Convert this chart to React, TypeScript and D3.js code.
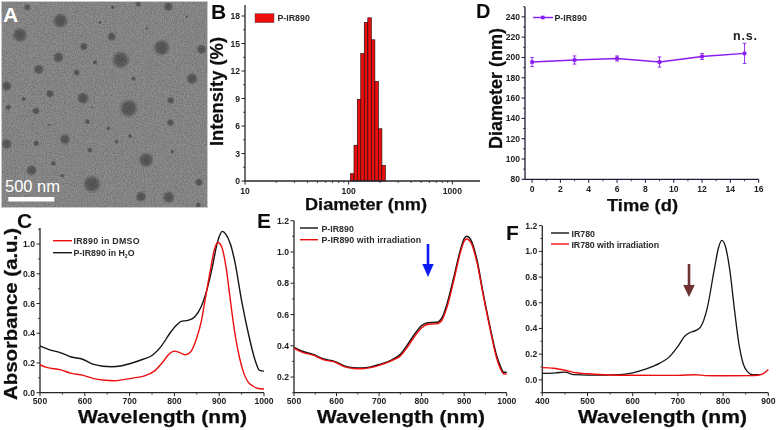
import React from "react";
import * as d3 from "d3";

type P = [number, number];

// Panel A: particles in the micrograph [x, y, radius], in nm from the image corner
const particles: [number, number, number][] = [
  [181,62,22],[60,105,22],[82,22,10],[335,110,13],[251,140,12],[485,143,24],[605,148,15],[175,172,16],
  [362,180,26],[116,208,15],[230,218,10],[285,187,7],[400,236,7],[576,236,17],[20,258,15],[150,281,12],
  [71,297,7],[249,295,18],[512,301,11],[25,322,9],[108,333,11],[386,325,27],[276,323,3],[148,374,4],
  [262,365,8],[511,368,11],[325,385,6],[195,418,16],[20,432,16],[109,430,9],[390,408,6],[270,450,8],
  [517,455,6],[438,480,22],[160,490,8],[95,511,16],[187,527,6],[276,552,26],[597,547,12],[423,590,16],
  [506,592,18],[595,615,8],[505,20,14],[415,12,9],[338,22,6],[300,68,5],[560,50,4],[440,85,4],[350,425,6],
];

// Panel B
const binDiameters = [108,117,126,136,147,159,172,186,201,217];
const binIntensity = [0.8,3.9,8.9,13.9,17.3,17.8,15.4,10.85,5.7,1.7];

// Panel D
const days = [0,3,6,9,12,15];
const diameters = [195.5,197.5,199,195.5,201,204];
const diameterErr = [4.5,4,2.5,5,3,10];

// Panel C
const cDmso: P[] = [[500,.188],[515,.17],[545,.155],[570,.13],[595,.118],[620,.095],[640,.085],[665,.08],[690,.09],[710,.1],[735,.115],[755,.145],[775,.21],[790,.265],[800,.28],[812,.27],[825,.255],[835,.27],[850,.37],[860,.48],[870,.65],[880,.82],[890,.97],[897,1.01],[905,.985],[915,.85],[925,.62],[935,.40],[945,.24],[955,.13],[965,.07],[975,.045],[985,.03],[1000,.025]];
const cWater: P[] = [[500,.315],[520,.29],[545,.27],[570,.24],[595,.225],[620,.19],[640,.178],[660,.175],[680,.18],[700,.195],[730,.225],[750,.25],[770,.31],[790,.40],[805,.455],[815,.48],[830,.487],[845,.51],[860,.58],[875,.72],[885,.85],[895,1.0],[900,1.05],[907,1.085],[915,1.065],[925,1.0],[935,.88],[950,.62],[965,.40],[980,.22],[990,.15],[1000,.145]];

// Panel E
const eBefore: P[] = [[500,.39],[520,.365],[545,.345],[570,.315],[595,.3],[620,.27],[640,.26],[660,.258],[680,.265],[700,.28],[730,.31],[750,.345],[770,.42],[785,.48],[800,.53],[815,.548],[835,.55],[848,.58],[860,.67],[875,.83],[890,1.0],[900,1.085],[906,1.1],[915,1.08],[930,.95],[945,.73],[960,.53],[975,.35],[985,.27],[993,.23],[1000,.23]];
const eAfter: P[] = [[500,.385],[520,.358],[545,.34],[570,.31],[595,.297],[620,.265],[640,.255],[660,.253],[680,.26],[700,.275],[730,.305],[750,.335],[770,.405],[785,.465],[800,.515],[815,.538],[835,.54],[848,.565],[860,.65],[875,.81],[890,.985],[900,1.07],[906,1.083],[915,1.065],[930,.935],[945,.72],[960,.52],[975,.335],[985,.255],[993,.22],[1000,.22]];

// Panel F
const fBefore: P[] = [[400,.05],[430,.055],[450,.06],[470,.04],[500,.037],[540,.037],[570,.04],[600,.055],[630,.085],[660,.13],[680,.175],[700,.26],[715,.34],[725,.365],[740,.385],[750,.41],[765,.56],[780,.85],[790,1.03],[797,1.085],[805,1.04],[815,.85],[825,.55],[835,.28],[845,.12],[855,.06],[865,.04],[880,.04]];
const fAfter: P[] = [[400,.095],[425,.09],[450,.075],[475,.055],[500,.047],[550,.038],[600,.036],[700,.035],[740,.04],[760,.033],[800,.032],[860,.033],[880,.038],[890,.05],[900,.08]];

const FONT = "'Liberation Sans', Arial, sans-serif";
const AXIS = "#26262c";
const TICK_TXT = "#222";

type AxisProps = {
  x: d3.ScaleContinuousNumeric<number, number>;
  y: d3.ScaleContinuousNumeric<number, number>;
  xMajor: number[]; xMinor: number[]; yMajor: number[]; yMinor: number[];
  xFmt?: (v: number) => string; yFmt?: (v: number) => string;
  xEnd?: number; xBaseline: number; color?: string;
};

function Axes({ x, y, xMajor, xMinor, yMajor, yMinor, xFmt = String, yFmt = String, xBaseline, color = AXIS }: AxisProps) {
  const [x0, x1] = x.range();
  const [y0, y1] = y.range();
  return (
    <g fontFamily={FONT} fontWeight="bold" fontSize={8.6} fill={TICK_TXT}>
      <path d={`M${x0},${y1}V${y0}H${x1}`} fill="none" stroke={color} strokeWidth={1.3} />
      {xMajor.map(v => (
        <g key={"xM" + v}>
          <line x1={x(v)} x2={x(v)} y1={y0} y2={y0 + 3.5} stroke={color} strokeWidth={1} />
          <text x={x(v)} y={xBaseline} textAnchor="middle">{xFmt(v)}</text>
        </g>
      ))}
      {xMinor.map(v => <line key={"xm" + v} x1={x(v)} x2={x(v)} y1={y0} y2={y0 + 2} stroke={color} strokeWidth={0.8} />)}
      {yMajor.map(v => (
        <g key={"yM" + v}>
          <line x1={x0} x2={x0 - 3.5} y1={y(v)} y2={y(v)} stroke={color} strokeWidth={1} />
          <text x={x0 - 5} y={y(v) + 3} textAnchor="end">{yFmt(v)}</text>
        </g>
      ))}
      {yMinor.map(v => <line key={"ym" + v} x1={x0} x2={x0 - 2} y1={y(v)} y2={y(v)} stroke={color} strokeWidth={0.8} />)}
    </g>
  );
}

const BigX = ({ t, x0, x1, y, s = 17.5 }: { t: string; x0: number; x1: number; y: number; s?: number }) => (
  <text x={x0} y={y} textLength={x1 - x0} lengthAdjust="spacingAndGlyphs" fontFamily={FONT} fontWeight="bold" fontSize={s} fill="#111" stroke="#111" strokeWidth={0.25}>{t}</text>
);
const BigY = ({ t, x, y0, y1, s = 17.5 }: { t: string; x: number; y0: number; y1: number; s?: number }) => (
  <text transform={`translate(${x},${y0}) rotate(-90)`} textLength={y0 - y1} lengthAdjust="spacingAndGlyphs" fontFamily={FONT} fontWeight="bold" fontSize={s} fill="#111" stroke="#111" strokeWidth={0.25}>{t}</text>
);
const Letter = ({ t, x, y, fill = "#111", s = 21 }: { t: string; x: number; y: number; fill?: string; s?: number }) => (
  <text x={x} y={y} fontFamily={FONT} fontWeight="bold" fontSize={s} fill={fill}>{t}</text>
);
const Leg = ({ t, x, y, w }: { t: React.ReactNode; x: number; y: number; w?: number }) => (
  <text x={x} y={y} fontFamily={FONT} fontWeight="bold" fontSize={8.8} fill="#2a2a2a" textLength={w} lengthAdjust={w ? "spacing" : undefined}>{t}</text>
);
const LegLine = ({ x0, x1, y, c }: { x0: number; x1: number; y: number; c: string }) => (
  <line x1={x0} x2={x1} y1={y} y2={y} stroke={c} strokeWidth={1.4} />
);
const Arrow = ({ x, y0, yh, y1, hw, c }: { x: number; y0: number; yh: number; y1: number; hw: number; c: string }) => (
  <g fill={c}>
    <rect x={x - 1.3} y={y0} width={2.6} height={yh - y0 + 1} />
    <path d={`M${x - hw},${yh}H${x + hw}L${x},${y1}Z`} />
  </g>
);

const steps = (a: number, b: number, s: number) => d3.range(a, b + s / 2, s).map(v => +v.toFixed(4));

export default function App() {
  // A
  const imgS = d3.scaleLinear().domain([0, 630]).range([0, 210]);

  // B
  const bx = d3.scaleLog().domain([10, 1847]).range([245, 480]);
  const by = d3.scaleLinear().domain([0, 19.2]).range([181, 5]);
  const binRatio = Math.pow(10, 10.5 / 311 / 2);

  // D
  const dx = d3.scaleLinear().domain([-0.5, 16]).range([525, 758.7]);
  const dy = d3.scaleLinear().domain([80, 250]).range([179.3, 6.7]);
  const dLine = d3.line<number>().x((_, i) => dx(days[i])).y(v => dy(v));

  // C
  const cx = d3.scaleLinear().domain([500, 1000]).range([40, 264]);
  const cy = d3.scaleLinear().domain([0, 1.108]).range([392.7, 228]);
  // E
  const ex = d3.scaleLinear().domain([500, 1000]).range([294, 506.7]);
  const ey = d3.scaleLinear().domain([0.1, 1.2]).range([392.7, 220.7]);
  // F
  const fx = d3.scaleLinear().domain([400, 900]).range([542.3, 768.3]);
  const fy = d3.scaleLinear().domain([-0.1, 1.2]).range([392.7, 225.7]);

  const curve = (sx: any, sy: any) =>
    d3.line<P>().x(d => sx(d[0])).y(d => sy(d[1])).curve(d3.curveMonotoneX);
  const f1 = (v: number) => v.toFixed(1);

  return (
    <svg width={777} height={430} viewBox="0 0 777 430" style={{ position: "absolute", left: 0, top: 0, background: "#fff" }}>
      <defs>
        <filter id="grain" x="0" y="0" width="100%" height="100%">
          <feTurbulence type="fractalNoise" baseFrequency="0.9" numOctaves={2} seed={4} />
          <feColorMatrix type="matrix" values="0 0 0 0 0  0 0 0 0 0  0 0 0 0 0  1.4 0 0 0 -0.5" />
          <feGaussianBlur stdDeviation="0.4" />
        </filter>
        <filter id="soft" x="-10%" y="-10%" width="120%" height="120%">
          <feGaussianBlur stdDeviation="0.35" />
        </filter>
        <radialGradient id="blob">
          <stop offset="0%" stopColor="#484848" stopOpacity={0.8} />
          <stop offset="60%" stopColor="#4c4c4c" stopOpacity={0.68} />
          <stop offset="100%" stopColor="#606060" stopOpacity={0} />
        </radialGradient>
        <clipPath id="imgClip"><rect x={2} y={2} width={205} height={205} /></clipPath>
      </defs>

      {/* A */}
      <rect x={1} y={1} width={207} height={207} fill="#c8c8c8" />
      <g clipPath="url(#imgClip)">
        <rect x={2} y={2} width={205} height={205} fill="#8e8e8e" />
        {particles.map(([px, py, r], i) => (
          <circle key={i} cx={imgS(px)} cy={imgS(py)} r={imgS(r) * 1.12} fill="url(#blob)" />
        ))}
        <rect x={2} y={2} width={205} height={205} fill="#000" filter="url(#grain)" opacity={0.36} />
      </g>
      <Letter t="A" x={3} y={21.5} fill="#fff" />
      <text x={5} y={192} fontFamily={FONT} fontSize={16.5} fill="#fff">500 nm</text>
      <rect x={8.3} y={197} width={46} height={4.5} fill="#fff" />

      <g filter="url(#soft)">
        {/* B */}
        <Letter t="B" x={211} y={19} />
        {binDiameters.map((d, i) => (
          <rect key={d} x={bx(d / binRatio)} y={by(binIntensity[i])} width={bx(d * binRatio) - bx(d / binRatio)}
            height={by(0) - by(binIntensity[i])} fill="#ee0a0a" stroke="#2a0c0c" strokeWidth={0.7} />
        ))}
        <Axes x={bx} y={by}
          xMajor={[10, 100, 1000]} xMinor={[20,30,40,50,60,70,80,90,200,300,400,500,600,700,800,900]}
          yMajor={steps(0, 18, 3)} yMinor={steps(1.5, 16.5, 3)} xBaseline={193.5} />
        <rect x={255} y={13.7} width={19} height={9} fill="#ee0a0a" stroke="#555" strokeWidth={0.5} />
        <Leg t="P-IR890" x={277.5} y={21} />
        <BigX t="Diameter (nm)" x0={305} x1={427} y={210} s={16} />
        <BigY t="Intensity (%)" x={223} y0={146} y1={37} />

        {/* D */}
        <Letter t="D" x={476} y={18} s={20} />
        <Axes x={dx} y={dy} xMajor={steps(0, 16, 2)} xMinor={steps(1, 15, 2)}
          yMajor={steps(80, 240, 20)} yMinor={steps(90, 250, 20)} xBaseline={192} color="#1a1a3a" />
        <path d={dLine(diameters) ?? ""} fill="none" stroke="#8a1cf0" strokeWidth={1.4} />
        {days.map((t, i) => (
          <g key={t} stroke="#8a1cf0" strokeWidth={0.9}>
            <line x1={dx(t)} x2={dx(t)} y1={dy(diameters[i] - diameterErr[i])} y2={dy(diameters[i] + diameterErr[i])} />
            <line x1={dx(t) - 1.8} x2={dx(t) + 1.8} y1={dy(diameters[i] - diameterErr[i])} y2={dy(diameters[i] - diameterErr[i])} />
            <line x1={dx(t) - 1.8} x2={dx(t) + 1.8} y1={dy(diameters[i] + diameterErr[i])} y2={dy(diameters[i] + diameterErr[i])} />
            <rect x={dx(t) - 1.8} y={dy(diameters[i]) - 1.8} width={3.6} height={3.6} fill="#8a1cf0" stroke="none" />
          </g>
        ))}
        <LegLine x0={533} x1={553} y={17.5} c="#8a1cf0" />
        <rect x={541} y={15.7} width={3.6} height={3.6} fill="#8a1cf0" />
        <Leg t="P-IR890" x={554.5} y={21} />
        <text x={733} y={40} textLength={24} fontFamily={FONT} fontWeight="bold" fontSize={12.5} fill="#222">n.s.</text>
        <BigX t="Time (d)" x0={607} x1={678} y={211} s={17} />
        <BigY t="Diameter (nm)" x={501.5} y0={149} y1={28} />

        {/* C */}
        <Letter t="C" x={17} y={228} />
        <Axes x={cx} y={cy} xMajor={steps(500, 1000, 100)} xMinor={steps(550, 950, 100)}
          yMajor={steps(0, 1, 0.2)} yMinor={steps(0.1, 1.1, 0.2)} yFmt={f1} xBaseline={404} />
        <path d={curve(cx, cy)(cWater) ?? ""} fill="none" stroke="#141414" strokeWidth={1.4} />
        <path d={curve(cx, cy)(cDmso) ?? ""} fill="none" stroke="#ee1010" strokeWidth={1.4} />
        <LegLine x0={53} x1={72} y={240.7} c="#ee1010" />
        <LegLine x0={53} x1={72} y={252.7} c="#141414" />
        <Leg t="IR890 in DMSO" x={73.5} y={244} w={66} />
        <Leg t={<>P-IR890 in H<tspan dy={2} fontSize={5}>2</tspan><tspan dy={-2}>O</tspan></>} x={73.5} y={256} />
        <BigX t="Wavelength (nm)" x0={78} x1={247} y={423} />
        <BigY t="Absorbance (a.u.)" x={17} y0={400} y1={228} />

        {/* E */}
        <Letter t="E" x={257} y={228} />
        <Axes x={ex} y={ey} xMajor={steps(500, 1000, 100)} xMinor={steps(550, 950, 100)}
          yMajor={steps(0.2, 1.2, 0.2)} yMinor={steps(0.1, 1.1, 0.2)} yFmt={f1} xBaseline={404} />
        <path d={curve(ex, ey)(eBefore) ?? ""} fill="none" stroke="#141414" strokeWidth={1.5} />
        <path d={curve(ex, ey)(eAfter) ?? ""} fill="none" stroke="#ee1010" strokeWidth={1.4} />
        <LegLine x0={300} x1={318} y={228} c="#141414" />
        <LegLine x0={300} x1={318} y={239.7} c="#ee1010" />
        <Leg t="P-IR890" x={321.5} y={231.5} />
        <Leg t="P-IR890 with irradiation" x={321.5} y={243} w={99.5} />
        <Arrow x={428} y0={244} yh={264} y1={277} hw={5.7} c="#0a1cf0" />
        <BigX t="Wavelength (nm)" x0={317} x1={485} y={423} />

        {/* F */}
        <Letter t="F" x={506} y={240} />
        <Axes x={fx} y={fy} xMajor={steps(400, 900, 100)} xMinor={steps(450, 850, 100)}
          yMajor={steps(0, 1.2, 0.2)} yMinor={steps(-0.1, 1.1, 0.2)} yFmt={f1} xBaseline={404} />
        <path d={curve(fx, fy)(fBefore) ?? ""} fill="none" stroke="#141414" strokeWidth={1.3} />
        <path d={curve(fx, fy)(fAfter) ?? ""} fill="none" stroke="#ee1010" strokeWidth={1.4} />
        <LegLine x0={551} x1={569} y={233} c="#141414" />
        <LegLine x0={551} x1={569} y={244} c="#ee1010" />
        <Leg t="IR780" x={571.5} y={236.5} />
        <Leg t="IR780 with irradiation" x={571.5} y={247.5} w={87.5} />
        <Arrow x={689} y0={264} yh={285} y1={297} hw={5.8} c="#6e3234" />
        <BigX t="Wavelength (nm)" x0={578} x1={747} y={423} />
      </g>
    </svg>
  );
}
